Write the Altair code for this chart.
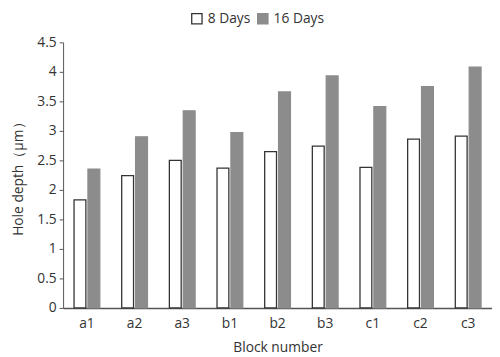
import altair as alt
import pandas as pd

blocks = ["a1", "a2", "a3", "b1", "b2", "b3", "c1", "c2", "c3"]
days8 = [1.83, 2.24, 2.50, 2.37, 2.65, 2.74, 2.38, 2.86, 2.91]
days16 = [2.35, 2.90, 3.34, 2.97, 3.66, 3.93, 3.41, 3.75, 4.08]
series = ["8 Days", "16 Days"]

rows = []
for b, v8, v16 in zip(blocks, days8, days16):
    rows.append({"block": b, "series": series[0], "value": v8})
    rows.append({"block": b, "series": series[1], "value": v16})
df = pd.DataFrame(rows)

FONT = "Open Sans"
TXT = "#333333"

chart = alt.Chart(df).mark_bar(strokeWidth=1.3).encode(
    x=alt.X("block:N", sort=blocks,
            scale=alt.Scale(paddingInner=0.46, paddingOuter=0.23),
            axis=alt.Axis(title="Block number", labelAngle=0, ticks=False,
                          domainColor="#555555", domainWidth=1.5,
                          labelFontSize=14, labelColor=TXT, labelPadding=9,
                          titleFontSize=14, titleColor=TXT, titleFontWeight="normal",
                          titlePadding=10, labelFont=FONT, titleFont=FONT)),
    xOffset=alt.XOffset("series:N", sort=series, scale=alt.Scale(paddingInner=0.15)),
    y=alt.Y("value:Q",
            scale=alt.Scale(domain=[0, 4.5], nice=False),
            axis=alt.Axis(title="Hole depth（μm）", values=[0, 0.5, 1, 1.5, 2, 2.5, 3, 3.5, 4, 4.5],
                          format="~g",
                          grid=False, tickSize=4, tickColor="#555555", domainColor="#555555",
                          labelFontSize=14, labelColor=TXT, labelFont=FONT,
                          titleFontSize=14, titleColor=TXT, titleFontWeight="normal",
                          titleFont=FONT, titlePadding=12, labelPadding=3)),
    fill=alt.Fill("series:N", sort=series,
                  scale=alt.Scale(domain=series, range=["#ffffff", "#8c8c8c"]),
                  legend=alt.Legend(title=None, orient="none", legendX=129, legendY=-31,
                                    direction="horizontal", symbolType="square",
                                    symbolSize=110, labelFontSize=14, labelColor=TXT,
                                    labelFont=FONT, columnPadding=4, labelOffset=4,
                                    symbolStrokeWidth=1.3)),
    stroke=alt.Stroke("series:N", sort=series,
                      scale=alt.Scale(domain=series, range=["#333333", "#8c8c8c"]),
                      legend=None),
).properties(
    width=436, height=270,
    background="white",
    padding={"left": 56, "top": 32, "right": 0, "bottom": 49},
    autosize=alt.AutoSizeParams(type="none"),
).configure_view(stroke=None)

chart.save("out.html", embed_options={"renderer": "svg", "actions": False})
